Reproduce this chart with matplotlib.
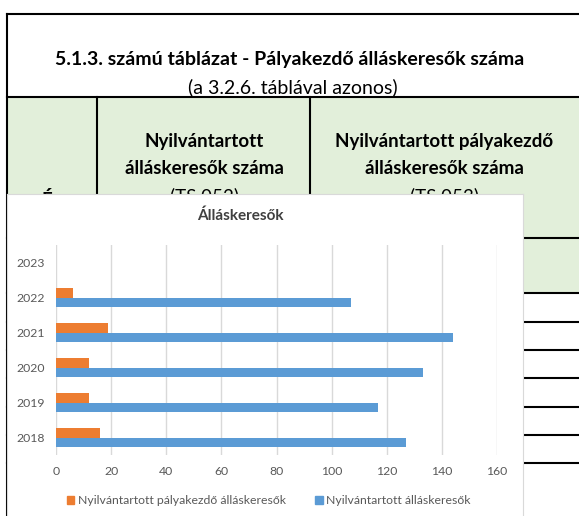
import numpy as np
import matplotlib.pyplot as plt
from matplotlib.patches import Rectangle, Patch

# data
years = ['2018', '2019', '2020', '2021', '2022', '2023']
palyakezdo = [16, 12, 12, 19, 6, np.nan]
allaskereso = [127, 117, 133, 144, 107, np.nan]

table_title = '5.1.3. számú táblázat - Pályakezdő álláskeresők száma'
table_sub = '(a 3.2.6. táblával azonos)'
col1 = ['Nyilvántartott', 'álláskeresők száma', '(TS 052)']
col2 = ['Nyilvántartott pályakezdő', 'álláskeresők száma', '(TS 053)']
row_lines = [238, 293, 322, 350, 378, 407, 435, 463]

W, H = 579, 516
fig = plt.figure(figsize=(W / 100, H / 100), dpi=100)
plt.rcParams['font.family'] = ['Lato', 'DejaVu Sans']

# background table (pixel coords)
bg = fig.add_axes([0, 0, 1, 1])
bg.set_xlim(0, W)
bg.set_ylim(H, 0)
bg.axis('off')
bg.add_patch(Rectangle((7, 97), W, 196, facecolor='#E2EFDA', edgecolor='none'))
bg.plot([7, W], [14, 14], color='black', lw=1.5)
bg.plot([7, W], [97, 97], color='black', lw=1.5)
bg.plot([7, 7], [14, H], color='black', lw=1.5)
for x in [97, 310]:
    bg.plot([x, x], [97, H], color='black', lw=1.5)
for y in row_lines:
    bg.plot([7, W], [y, y], color='black', lw=1.5)
bg.text(290, 59, table_title, ha='center', va='center', fontsize=14,
        fontweight='bold')
bg.text(293, 87, table_sub, ha='center', va='center', fontsize=14)
for i, t in enumerate(col1):
    bg.text(204, 142 + i * 27, t, ha='center', va='center', fontsize=13.5,
            fontweight='bold' if i < 2 else 'normal')
for i, t in enumerate(col2):
    bg.text(444, 142 + i * 27, t, ha='center', va='center', fontsize=13.5,
            fontweight='bold' if i < 2 else 'normal')
bg.text(52, 200, 'Év', ha='center', va='center', fontsize=13.5, fontweight='bold')

# chart box
box = fig.add_axes([7 / W, -0.01, (523 - 7) / W, (H - 194) / H + 0.01])
box.set_xticks([])
box.set_yticks([])
for s in box.spines.values():
    s.set_color('#D9D9D9')

ax = fig.add_axes([56 / W, (H - 455) / H, (497 - 56) / W, 210 / H])
ax.patch.set_alpha(0)
y = np.arange(len(years))
h = 0.26
ax.barh(y + h / 2, palyakezdo, height=h, color='#ED7D31',
        label='Nyilvántartott pályakezdő álláskeresők', zorder=3)
ax.barh(y - h / 2, allaskereso, height=h, color='#5B9BD5',
        label='Nyilvántartott álláskeresők', zorder=3)
ax.set_xlim(0, 160)
ax.set_ylim(-0.5, len(years) - 0.5)
ax.set_xticks(range(0, 161, 20))
ax.set_yticks(y)
ax.set_yticklabels(years)
ax.grid(axis='x', color='#D9D9D9', lw=1, zorder=0)
for s in ax.spines.values():
    s.set_visible(False)
ax.tick_params(length=0, colors='#595959', labelsize=8.8, pad=8)

fig.text(240 / W, 1 - 216 / H, 'Álláskeresők', ha='center', va='center',
         fontsize=11, fontweight='bold', color='#404040')
fig.legend(handles=[Patch(color='#ED7D31', label='Nyilvántartott pályakezdő álláskeresők'),
                    Patch(color='#5B9BD5', label='Nyilvántartott álláskeresők')],
           loc='center', bbox_to_anchor=(269 / W, 1 - 501 / H), ncol=2, frameon=False,
           fontsize=8.8, labelcolor='#595959', handlelength=0.6, handleheight=0.6,
           handletextpad=0.3, columnspacing=2.4)

fig.savefig('out.png', dpi=100)
